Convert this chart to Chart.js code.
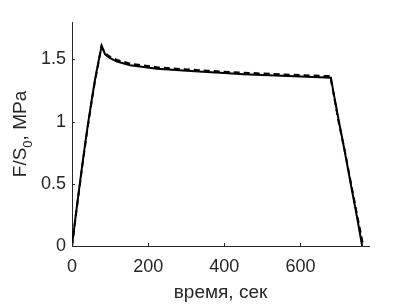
<!DOCTYPE html>
<html>
<head>
<meta charset="utf-8">
<script src="https://cdn.jsdelivr.net/npm/chart.js@4.4.1/dist/chart.umd.min.js"></script>
<style>
html,body{margin:0;padding:0;background:#fff;}
#wrap{width:407px;height:304px;position:relative;}
</style>
</head>
<body>
<div id="wrap"><canvas id="c" width="407" height="304"></canvas></div>
<script>
// time (s) and F/S0 (MPa)
const solidTime  = [0, 10, 20, 30, 40, 50, 60, 70, 78, 87, 100, 118, 153, 223, 292, 354, 400, 450, 500, 550, 600, 650, 680, 687, 701, 715, 732, 748, 762];
const solidValue = [0, 0.25, 0.49, 0.72, 0.94, 1.14, 1.33, 1.49, 1.61, 1.54, 1.51, 1.482, 1.452, 1.425, 1.41, 1.398, 1.39, 1.381, 1.374, 1.368, 1.362, 1.357, 1.352, 1.23, 1.0, 0.78, 0.5, 0.24, 0];
const dashTime   = [0, 10, 20, 30, 40, 50, 60, 70, 77, 87, 100, 118, 153, 223, 292, 354, 400, 450, 500, 550, 600, 650, 678, 686, 700, 716, 733, 750, 765];
const dashValue  = [0, 0.245, 0.48, 0.71, 0.93, 1.13, 1.32, 1.48, 1.60, 1.55, 1.52, 1.495, 1.465, 1.437, 1.421, 1.409, 1.401, 1.393, 1.386, 1.379, 1.373, 1.368, 1.365, 1.24, 1.0, 0.77, 0.5, 0.23, 0];
const xTicks = [0, 200, 400, 600];
const yTicks = [0, 0.5, 1, 1.5];
const xLabel = 'время, сек';
const yLabelParts = ['F/S', '0', ', MPa'];

const toPts = (xs, ys) => xs.map((x, i) => ({x: x, y: ys[i]}));
const TXT = '#262626';
const FONT = '"Liberation Sans", Arial, sans-serif';

const innerTicks = {
  id: 'innerTicks',
  afterDraw(chart) {
    const {ctx, chartArea, scales} = chart;
    ctx.save();
    ctx.strokeStyle = TXT;
    ctx.lineWidth = 1;
    xTicks.forEach(v => {
      const px = Math.round(scales.x.getPixelForValue(v)) + 0.5;
      ctx.beginPath(); ctx.moveTo(px, chartArea.bottom); ctx.lineTo(px, chartArea.bottom - 3); ctx.stroke();
    });
    yTicks.forEach(v => {
      const py = Math.round(scales.y.getPixelForValue(v)) + 0.5;
      ctx.beginPath(); ctx.moveTo(chartArea.left, py); ctx.lineTo(chartArea.left + 3, py); ctx.stroke();
    });
    // y axis title with subscript
    const big = '19px ' + FONT, small = '13px ' + FONT;
    ctx.font = big; const w1 = ctx.measureText(yLabelParts[0]).width;
    ctx.font = small; const w2 = ctx.measureText(yLabelParts[1]).width;
    ctx.font = big; const w3 = ctx.measureText(yLabelParts[2]).width;
    const total = w1 + w2 + w3;
    const cy = (chartArea.top + chartArea.bottom) / 2;
    ctx.translate(26, cy);
    ctx.rotate(-Math.PI / 2);
    ctx.fillStyle = TXT;
    ctx.textBaseline = 'alphabetic';
    ctx.textAlign = 'left';
    let x0 = -total / 2;
    ctx.font = big; ctx.fillText(yLabelParts[0], x0, 0);
    ctx.font = small; ctx.fillText(yLabelParts[1], x0 + w1, 6);
    ctx.font = big; ctx.fillText(yLabelParts[2], x0 + w1 + w2, 0);
    ctx.restore();
  }
};

new Chart(document.getElementById('c'), {
  type: 'scatter',
  data: {
    datasets: [
      {data: toPts(solidTime, solidValue), showLine: true, borderColor: '#000', borderWidth: 2, pointRadius: 0, tension: 0, fill: false},
      {data: toPts(dashTime, dashValue), showLine: true, borderColor: '#000', borderWidth: 2, borderDash: [6, 4], pointRadius: 0, tension: 0, fill: false}
    ]
  },
  options: {
    responsive: false,
    animation: false,
    events: [],
    layout: {padding: {top: 22, right: 38, left: 0, bottom: 0}},
    plugins: {legend: {display: false}, tooltip: {enabled: false}},
    scales: {
      x: {
        type: 'linear', min: 0, max: 780,
        grid: {display: false, drawTicks: false},
        border: {display: true, color: TXT, width: 1},
        afterBuildTicks: s => { s.ticks = xTicks.map(v => ({value: v})); },
        afterFit: s => { s.height = 58; },
        ticks: {color: TXT, font: {family: FONT, size: 18}, padding: 10, maxRotation: 0, callback: v => String(v)},
        title: {display: true, text: xLabel, color: TXT, font: {family: FONT, size: 19}, padding: {top: 0, bottom: 0}}
      },
      y: {
        type: 'linear', min: 0, max: 1.8,
        grid: {display: false, drawTicks: false},
        border: {display: true, color: TXT, width: 1},
        afterBuildTicks: s => { s.ticks = yTicks.map(v => ({value: v})); },
        afterFit: s => { s.width = 72; },
        ticks: {color: TXT, font: {family: FONT, size: 18}, padding: 6, callback: v => String(v)}
      }
    }
  },
  plugins: [innerTicks]
});
</script>
</body>
</html>
